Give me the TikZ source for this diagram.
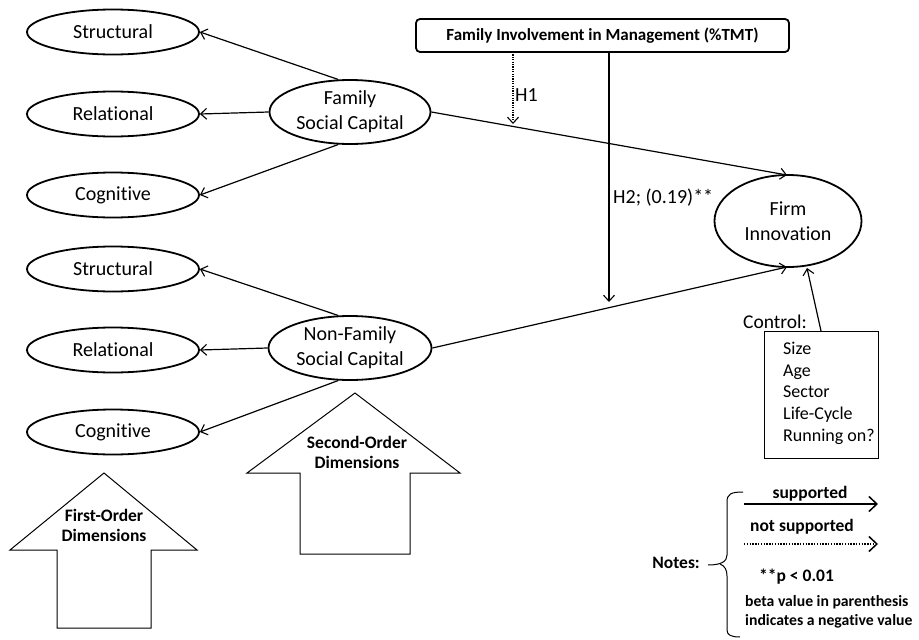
\documentclass[tikz,border=0pt]{standalone}
\usepackage{fontspec}
\setmainfont{Carlito}[Ligatures=NoCommon]
\usetikzlibrary{arrows.meta,shapes.geometric}
\begin{document}
\begin{tikzpicture}[x=1pt,y=-1pt,
  latent/.style={draw,ellipse,line width=1.8pt,inner sep=0pt,font=\fontsize{20}{25}\selectfont,align=center},
  conn/.style={line width=1.2pt,-{Straight Barb[length=6pt,width=11pt,line width=1.1pt]}},
  dotconn/.style={conn,dash pattern=on 1.2pt off 1.2pt},
  legconn/.style={line width=1.5pt,-{Straight Barb[length=8pt,width=15pt,line width=1.5pt]}},
  legdot/.style={legconn,dash pattern=on 1.4pt off 1.4pt},
  bigarrow/.style={draw,line width=1pt,fill=white},
  boldlbl/.style={font=\bfseries\fontsize{17.5}{20}\selectfont,align=center,inner sep=0pt},
  lbl/.style={font=\fontsize{20}{24}\selectfont}]
\useasboundingbox (0,0) rectangle (919,640);
% first-order ellipses
\node[latent,minimum width=172pt,minimum height=45pt] (s1) at (113,32) {Structural};
\node[latent,minimum width=172pt,minimum height=45pt] (r1) at (113,114) {Relational};
\node[latent,minimum width=172pt,minimum height=45pt] (c1) at (113,195) {Cognitive};
\node[latent,minimum width=172pt,minimum height=45pt] (s2) at (113,269) {Structural};
\node[latent,minimum width=172pt,minimum height=45pt] (r2) at (113,350) {Relational};
\node[latent,minimum width=172pt,minimum height=45pt] (c2) at (113,432) {Cognitive};
% second-order
\node[latent,minimum width=161pt,minimum height=64pt] (fsc) at (350,112) {Family\\Social Capital};
\node[latent,minimum width=163pt,minimum height=64pt] (nfsc) at (350,348) {Non-Family\\Social Capital};
% firm innovation
\node[latent,minimum width=147pt,minimum height=92pt] (fi) at (788,221) {Firm\\Innovation};
% top moderator box
\node[draw,rounded corners=4pt,line width=1.8pt,minimum width=373pt,minimum height=33pt,boldlbl,font=\bfseries\fontsize{17}{20}\selectfont] (fim) at (602.5,35.5) {Family Involvement in Management (\%TMT)};
% connectors first-order
\draw[conn] (fsc.110) -- (s1.east);
\draw[conn] (fsc.west) -- (r1.east);
\draw[conn] (fsc.250) -- (c1.east);
\draw[conn] (nfsc.110) -- (s2.east);
\draw[conn] (nfsc.west) -- (r2.east);
\draw[conn] (nfsc.250) -- (c2.east);
% main paths
\coordinate (fitop) at (787,175);
\coordinate (fibot) at (787,267);
\draw[conn] (fsc.east) -- (fitop);
\draw[conn] (nfsc.east) -- (fibot);
% moderation
\coordinate (h1s) at (513,52);
\coordinate (h1e) at (513,124);
\coordinate (h2s) at (609,52);
\coordinate (h2e) at (609,302);
\draw[dotconn] (h1s) -- (h1e);
\draw[conn] (h2s) -- (h2e);
\node[lbl,anchor=west,inner sep=0pt] (h1l) at (515,95) {H1};
\node[lbl,anchor=west,inner sep=0pt] (h2l) at (613,198) {H2; (0.19)**};
% control
\node[draw,line width=1pt,minimum width=114pt,minimum height=127pt] (ctrl) at (821,394.5) {};
\node[anchor=north west,inner sep=0pt,align=left,font=\fontsize{18}{21.7}\selectfont] (ctrltxt) at (783,342) {Size\\Age\\Sector\\Life-Cycle\\Running on?};
\node[inner sep=0pt,font=\fontsize{19.5}{22}\selectfont] (ctrllbl) at (775,322) {Control:};
\coordinate (ctrlarr) at (821,331);
\draw[conn] (ctrlarr) -- (807,268);
% big arrows
\path[bigarrow] (355,393) -- (460,473) -- (410,473) -- (410,554) -- (300,554) -- (300,473) -- (247,473) -- cycle;
\node[boldlbl] (sod) at (357,452) {Second-Order\\Dimensions};
\path[bigarrow] (104,473) -- (197,550) -- (151,550) -- (151,628) -- (57,628) -- (57,550) -- (10,550) -- cycle;
\node[boldlbl] (fod) at (104,525) {First-Order\\Dimensions};
% notes
\node[boldlbl,anchor=east] (notes) at (700,563) {Notes:};
\draw[line width=1pt] (743,492) .. controls (731,492) and (727,494) .. (727,502) -- (727,555) .. controls (727,561) and (722,565) .. (708,565);
\draw[line width=1pt] (720,564) .. controls (725,566) and (727,570) .. (727,576) -- (727,630) .. controls (727,635) and (731,637) .. (740,637);
\node[boldlbl] (supl) at (810,494) {supported};
\coordinate (sa) at (744,504);
\coordinate (sb) at (878,504);
\draw[legconn] (sa) -- (sb);
\node[boldlbl] (nsupl) at (802,527) {not supported};
\coordinate (na) at (744,544);
\coordinate (nb) at (878,544);
\draw[legdot] (na) -- (nb);
\node[boldlbl,anchor=west] (pl) at (759,577) {**p < 0.01};
\node[font=\bfseries\fontsize{15.7}{19.5}\selectfont,align=left,anchor=north west,inner sep=0pt] (beta) at (745,595) {beta value in parenthesis\\indicates a negative value};
\end{tikzpicture}
\end{document}
